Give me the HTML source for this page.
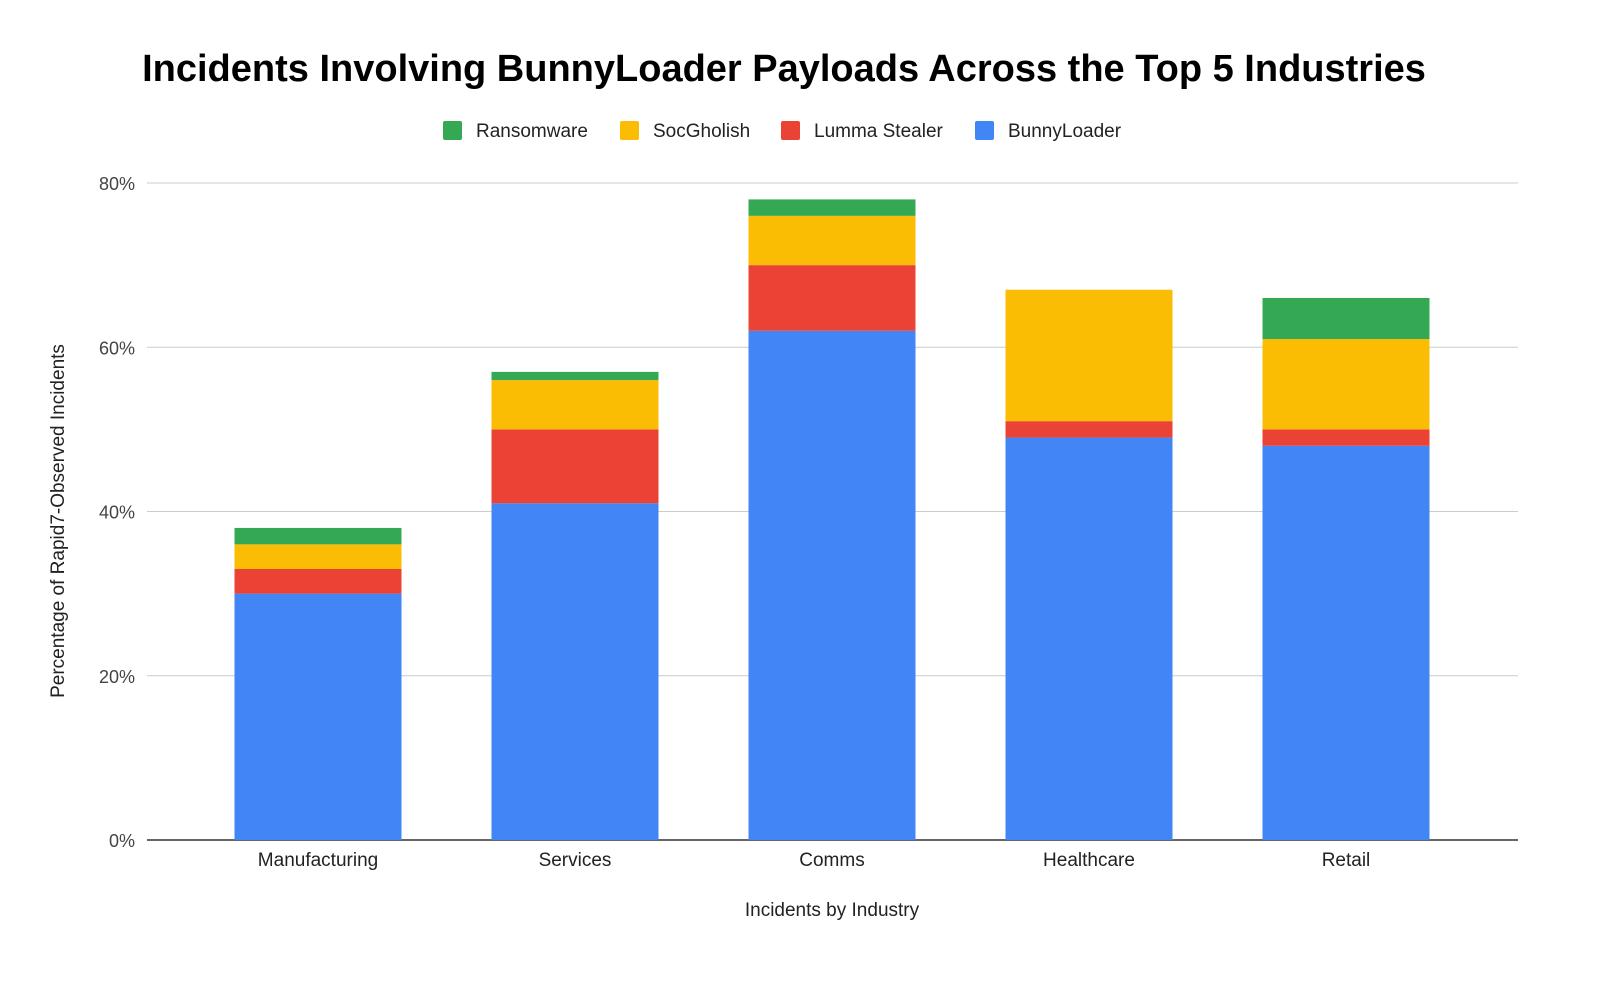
<!DOCTYPE html>
<html><head><meta charset="utf-8"><style>
body{margin:0;background:#fff;}
svg text{font-family:"Liberation Sans",Arial,sans-serif;}
</style></head><body>
<svg id="chart" width="1600" height="989" xmlns="http://www.w3.org/2000/svg">
<rect width="1600" height="989" fill="#fff"/>
<text x="784" y="81" text-anchor="middle" font-size="38" font-weight="bold" fill="#000">Incidents Involving BunnyLoader Payloads Across the Top 5 Industries</text>
<g>
 <g><rect x="443" y="121" width="19" height="19" rx="2" fill="#34a853"/><text x="476" y="137" font-size="19" fill="#222">Ransomware</text></g>
 <g><rect x="620" y="121" width="19" height="19" rx="2" fill="#fbbc04"/><text x="653" y="137" font-size="19" fill="#222">SocGholish</text></g>
 <g><rect x="781" y="121" width="19" height="19" rx="2" fill="#ea4335"/><text x="814" y="137" font-size="19" fill="#222">Lumma Stealer</text></g>
 <g><rect x="975" y="121" width="19" height="19" rx="2" fill="#4285f4"/><text x="1008" y="137" font-size="19" fill="#222">BunnyLoader</text></g>
</g>
<g id="grid"></g>
<g id="bars"></g>
<g id="xlabels"></g>
<text x="832" y="916" text-anchor="middle" font-size="19" fill="#222">Incidents by Industry</text>
<text transform="translate(64,521) rotate(-90)" text-anchor="middle" font-size="19" fill="#222">Percentage of Rapid7-Observed Incidents</text>
</svg>
<script>
const categories = ["Manufacturing","Services","Comms","Healthcare","Retail"];
const bunnyLoader = [30,41,62,49,48];
const lummaStealer = [3,9,8,2,2];
const socGholish = [3,6,6,16,11];
const ransomware = [2,1,2,0,5];
const yTicks = [0,20,40,60,80];
const yTickLabels = ["0%","20%","40%","60%","80%"];

const NS="http://www.w3.org/2000/svg";
const y0=840, y80=183, left=147, right=1518;
function yScale(v){return y0-(v/80)*(y0-y80);}
function xCenter(i){return 318+i*257;}
const barW=167;
function mk(tag,attrs,parent){const e=document.createElementNS(NS,tag);for(const k in attrs)e.setAttribute(k,attrs[k]);parent.appendChild(e);return e;}

const grid=document.getElementById('grid');
yTicks.forEach((t,i)=>{
  const y=yScale(t);
  const l=mk('line',{x1:left,x2:right,y1:y,y2:y,stroke:i===0?'#333':'#ccc','stroke-width':i===0?1.5:1},grid);
  
  
  const tx=mk('text',{x:135,y:y+7,'text-anchor':'end','font-size':18,fill:'#444'},grid);
  tx.textContent=yTickLabels[i];
  
  
});

const series=[["bunnyloader",bunnyLoader,"#4285f4"],["lumma-stealer",lummaStealer,"#ea4335"],["socgholish",socGholish,"#fbbc04"],["ransomware",ransomware,"#34a853"]];
const bars=document.getElementById('bars');
const xl=document.getElementById('xlabels');
categories.forEach((c,i)=>{
  let cum=0;
  series.forEach(([name,vals,col])=>{
    const v=vals[i];
    if(v>0){
      const yt=yScale(cum+v), yb=yScale(cum);
      const r=mk('rect',{x:xCenter(i)-barW/2,y:yt,width:barW,height:yb-yt,fill:col},bars);
      
      
    }
    cum+=v;
  });
  const t=mk('text',{x:xCenter(i),y:866,'text-anchor':'middle','font-size':19,fill:'#222'},xl);
  t.textContent=c;
  
  
});
</script>
</body></html>
